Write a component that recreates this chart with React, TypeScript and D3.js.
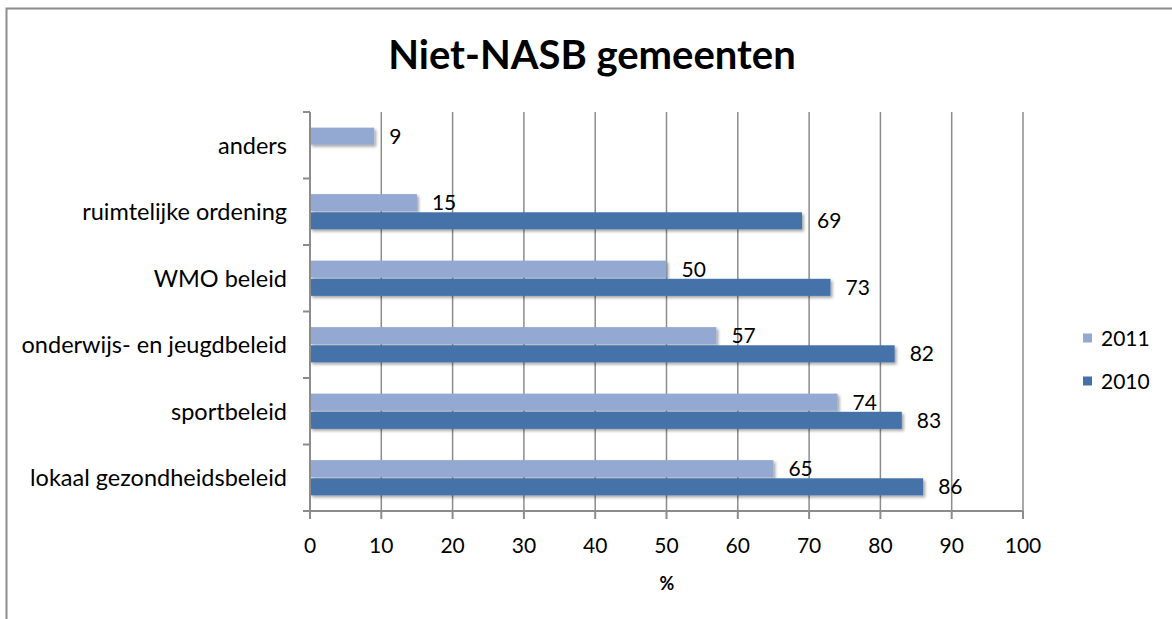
import * as d3 from "d3";
import { useEffect, useRef } from "react";

const categories = [
  "anders",
  "ruimtelijke ordening",
  "WMO beleid",
  "onderwijs- en jeugdbeleid",
  "sportbeleid",
  "lokaal gezondheidsbeleid",
];
const seriesNames = ["2011", "2010"];
const values2011 = [9, 15, 50, 57, 74, 65];
const values2010: (number | null)[] = [null, 69, 73, 82, 83, 86];
const xTicks = [0, 10, 20, 30, 40, 50, 60, 70, 80, 90, 100];

const W = 1172;
const H = 619;
const COLORS: Record<string, string> = { "2011": "#94a9d1", "2010": "#4472a8" };
const FONT = "Lato, 'Open Sans', sans-serif";

export default function App() {
  const ref = useRef<SVGSVGElement>(null);

  useEffect(() => {
    const svg = d3.select(ref.current);
    svg.selectAll("*").remove();

    const left = 310;
    const right = 1023;
    const top = 112;
    const bottom = 511;

    const defs = svg.append("defs");
    const f = defs
      .append("filter")
      .attr("id", "shadow")
      .attr("x", "-5%")
      .attr("y", "-30%")
      .attr("width", "115%")
      .attr("height", "180%");
    f.append("feDropShadow")
      .attr("dx", 2)
      .attr("dy", 2)
      .attr("stdDeviation", 1.5)
      .attr("flood-color", "#000")
      .attr("flood-opacity", 0.35);

    // outer frame
    svg
      .append("rect")
      .attr("x", 6.5)
      .attr("y", 8.5)
      .attr("width", W)
      .attr("height", H)
      .attr("fill", "#fff")
      .attr("stroke", "#8c8c8c")
      .attr("stroke-width", 2);

    svg
      .append("text")
      .attr("x", 592)
      .attr("y", 69)
      .attr("text-anchor", "middle")
      .attr("font-family", FONT)
      .attr("font-weight", "bold")
      .attr("font-size", 40)
      .text("Niet-NASB gemeenten");

    const x = d3.scaleLinear().domain([0, 100]).range([left, right]);
    const y = d3
      .scaleBand<string>()
      .domain(categories)
      .range([top, bottom])
      .paddingInner(0.47)
      .paddingOuter(0.235);
    const ys = d3.scaleBand<string>().domain(seriesNames).range([0, y.bandwidth()]).paddingInner(0.06);

    // gridlines
    svg
      .append("g")
      .selectAll("line")
      .data(xTicks.slice(1))
      .join("line")
      .attr("x1", (d) => x(d))
      .attr("x2", (d) => x(d))
      .attr("y1", top)
      .attr("y2", bottom)
      .attr("stroke", "#8c8c8c")
      .attr("stroke-width", 1.5);

    // bars
    const rows = categories.flatMap((c, i) => [
      { cat: c, s: "2011", v: values2011[i] },
      { cat: c, s: "2010", v: values2010[i] },
    ]).filter((r) => r.v != null) as { cat: string; s: string; v: number }[];

    const bars = svg.append("g").attr("filter", "url(#shadow)");
    bars
      .selectAll("rect")
      .data(rows)
      .join("rect")
      .attr("x", x(0))
      .attr("y", (d) => (y(d.cat) ?? 0) + (ys(d.s) ?? 0))
      .attr("width", (d) => x(d.v) - x(0))
      .attr("height", ys.bandwidth())
      .attr("fill", (d) => COLORS[d.s]);

    svg
      .append("g")
      .selectAll("text")
      .data(rows)
      .join("text")
      .attr("x", (d) => x(d.v) + 15)
      .attr("y", (d) => (y(d.cat) ?? 0) + (ys(d.s) ?? 0) + ys.bandwidth() / 2)
      .attr("dy", "0.36em")
      .attr("font-family", FONT)
      .attr("font-size", 21)
      .text((d) => d.v);

    // axes
    const axisG = svg.append("g").attr("stroke", "#8c8c8c").attr("stroke-width", 2);
    axisG.append("line").attr("x1", left).attr("x2", left).attr("y1", top).attr("y2", bottom + 8);
    axisG.append("line").attr("x1", left - 7).attr("x2", right).attr("y1", bottom).attr("y2", bottom);
    axisG
      .selectAll("line.xt")
      .data(xTicks)
      .join("line")
      .attr("class", "xt")
      .attr("x1", (d) => x(d))
      .attr("x2", (d) => x(d))
      .attr("y1", bottom)
      .attr("y2", bottom + 8);
    const step = y.step();
    axisG
      .selectAll("line.yt")
      .data(d3.range(categories.length))
      .join("line")
      .attr("class", "yt")
      .attr("x1", left - 7)
      .attr("x2", left)
      .attr("y1", (i) => top + i * step)
      .attr("y2", (i) => top + i * step);

    svg
      .append("g")
      .selectAll("text")
      .data(xTicks)
      .join("text")
      .attr("x", (d) => x(d))
      .attr("y", 553)
      .attr("text-anchor", "middle")
      .attr("font-family", FONT)
      .attr("font-size", 21)
      .text((d) => d);

    svg
      .append("g")
      .selectAll("text")
      .data(categories)
      .join("text")
      .attr("x", left - 23)
      .attr("y", (d) => (y(d) ?? 0) + y.bandwidth() / 2)
      .attr("dy", "0.36em")
      .attr("text-anchor", "end")
      .attr("font-family", FONT)
      .attr("font-size", 23.5)
      .text((d) => d);

    svg
      .append("text")
      .attr("x", 667)
      .attr("y", 590)
      .attr("text-anchor", "middle")
      .attr("font-family", FONT)
      .attr("font-weight", "bold")
      .attr("font-size", 18)
      .text("%");

    // legend
    const leg = svg
      .append("g")
      .selectAll("g")
      .data(seriesNames)
      .join("g")
      .attr("transform", (_, i) => `translate(1083,${338 + i * 43})`);
    leg
      .append("rect")
      .attr("x", 0)
      .attr("y", -4.5)
      .attr("width", 9)
      .attr("height", 9)
      .attr("fill", (d) => COLORS[d]);
    leg
      .append("text")
      .attr("x", 18)
      .attr("dy", "0.36em")
      .attr("font-family", FONT)
      .attr("font-size", 21)
      .text((d) => d);
  }, []);

  return (
    <svg
      ref={ref}
      width={W}
      height={H}
      style={{ position: "absolute", left: 0, top: 0 }}
      viewBox={`0 0 ${W} ${H}`}
    />
  );
}
